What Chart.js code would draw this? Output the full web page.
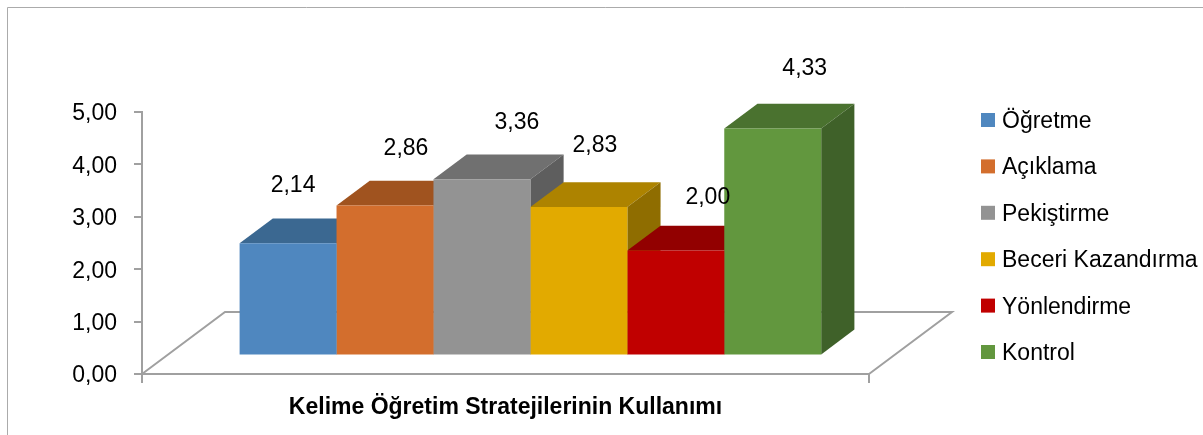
<!DOCTYPE html>
<html lang="tr">
<head>
<meta charset="utf-8">
<title>Kelime Öğretim Stratejilerinin Kullanımı</title>
<script src="https://cdn.jsdelivr.net/npm/chart.js@4.4.1/dist/chart.umd.min.js"></script>
<style>
  html, body { margin: 0; padding: 0; background: #fff; }
</style>
</head>
<body>
<canvas id="chart" width="1203" height="435"></canvas>
<script>
// Data
const category = ['Kelime Öğretim Stratejilerinin Kullanımı'];
const strategies = ['Öğretme', 'Açıklama', 'Pekiştirme', 'Beceri Kazandırma', 'Yönlendirme', 'Kontrol'];
const values = [2.14, 2.86, 3.36, 2.83, 2.00, 4.33];
const yMin = 0, yMax = 5, yStep = 1;

// Styles
const frontColors = ['#4F87BF', '#D36E2D', '#939393', '#E2AA00', '#C00000', '#62973E'];
const topColors   = ['#3B6891', '#A0531F', '#707070', '#AD8300', '#920000', '#4A722F'];
const sideColors  = ['#30557A', '#87461A', '#5E5E5E', '#8F6D00', '#7A0000', '#3F6129'];
// the value labels sit where Excel left them: [dx, dy] from the front-top centre of the bar
const labelShift = [[5, 59], [21, 59], [35, 58], [16, 63], [32, 55], [32, 62]];

// 3D floor depth and where the bars sit inside it
const depth = { x: 83, y: -62, front: 0.3, back: 0.7 };

const fmt = v => v.toFixed(2).replace('.', ',');

Chart.defaults.font.family = '"Liberation Sans", Arial, sans-serif';
Chart.defaults.color = '#000';

const threeD = {
    id: 'threeD',
    beforeDraw(chart) {
        const ctx = chart.ctx;
        ctx.save();
        ctx.strokeStyle = '#ABABAB';
        ctx.lineWidth = 1;
        ctx.beginPath();
        ctx.moveTo(7.5, chart.height);
        ctx.lineTo(7.5, 7.5);
        ctx.lineTo(chart.width, 7.5);
        ctx.stroke();
        ctx.restore();
    },
    beforeDatasetsDraw(chart) {
        const { ctx, chartArea: a } = chart;

        // floor
        ctx.save();
        ctx.strokeStyle = '#A0A0A0';
        ctx.lineWidth = 2;
        ctx.beginPath();
        ctx.moveTo(a.left, a.bottom);
        ctx.lineTo(a.left + depth.x, a.bottom + depth.y);
        ctx.lineTo(a.right + depth.x, a.bottom + depth.y);
        ctx.lineTo(a.right, a.bottom);
        ctx.stroke();
        ctx.restore();

        // move the bars into the middle of the floor (restored in afterDatasetsDraw)
        ctx.save();
        ctx.translate(depth.x * depth.front, depth.y * depth.front);
        const dx = depth.x * (depth.back - depth.front);
        const dy = depth.y * (depth.back - depth.front);

        chart.data.datasets.forEach((ds, i) => {
            const bar = chart.getDatasetMeta(i).data[0];
            const l = bar.x - bar.width / 2, r = bar.x + bar.width / 2;
            const t = bar.y, b = bar.base;

            ctx.fillStyle = topColors[i];
            ctx.beginPath();
            ctx.moveTo(l, t);
            ctx.lineTo(l + dx, t + dy);
            ctx.lineTo(r + dx, t + dy);
            ctx.lineTo(r, t);
            ctx.closePath();
            ctx.fill();

            ctx.fillStyle = sideColors[i];
            ctx.beginPath();
            ctx.moveTo(r, t);
            ctx.lineTo(r + dx, t + dy);
            ctx.lineTo(r + dx, b + dy);
            ctx.lineTo(r, b);
            ctx.closePath();
            ctx.fill();
        });
    },
    afterDatasetsDraw(chart) {
        const ctx = chart.ctx;

        // value labels
        ctx.font = '23px "Liberation Sans", Arial, sans-serif';
        ctx.fillStyle = '#000';
        ctx.textAlign = 'center';
        ctx.textBaseline = 'alphabetic';
        chart.data.datasets.forEach((ds, i) => {
            const bar = chart.getDatasetMeta(i).data[0];
            ctx.fillText(fmt(ds.data[0]), bar.x + labelShift[i][0], bar.y - labelShift[i][1] + 8);
        });
        ctx.restore();

        // legend
        ctx.save();
        ctx.font = '23px "Liberation Sans", Arial, sans-serif';
        ctx.textAlign = 'left';
        ctx.textBaseline = 'alphabetic';
        chart.data.datasets.forEach((ds, i) => {
            const cy = 120 + i * 46.4;
            ctx.fillStyle = ds.backgroundColor;
            ctx.fillRect(981, cy - 7, 14, 14);
            ctx.fillStyle = '#000';
            ctx.fillText(ds.label, 1002, cy + 8);
        });
        ctx.restore();
    }
};

new Chart(document.getElementById('chart'), {
    type: 'bar',
    data: {
        labels: category,
        datasets: strategies.map((name, i) => ({
            label: name,
            data: [values[i]],
            backgroundColor: frontColors[i],
            borderWidth: 0,
            clip: false
        }))
    },
    options: {
        responsive: false,
        animation: false,
        events: [],
        categoryPercentage: 0.8,
        barPercentage: 1.0,
        layout: { padding: { left: 0, top: 112, right: 334, bottom: 0 } },
        plugins: {
            legend: { display: false },
            tooltip: { enabled: false }
        },
        scales: {
            x: {
                ticks: { color: '#000', font: { size: 23, weight: 'bold' }, padding: 11, maxRotation: 0 },
                grid: { drawOnChartArea: false, drawTicks: true, tickLength: 9, color: '#A0A0A0', lineWidth: 2, offset: true },
                border: { display: true, color: '#A0A0A0', width: 2 },
                afterFit(scale) { scale.height = 61; }
            },
            y: {
                min: yMin,
                max: yMax,
                ticks: { stepSize: yStep, color: '#000', font: { size: 23 }, padding: 17, labelOffset: 2, callback: v => fmt(v) },
                grid: { drawOnChartArea: false, drawTicks: true, tickLength: 8, color: '#A0A0A0', lineWidth: 2 },
                border: { display: true, color: '#A0A0A0', width: 2 },
                afterFit(scale) { scale.width = 142; }
            }
        }
    },
    plugins: [threeD]
});
</script>
</body>
</html>
